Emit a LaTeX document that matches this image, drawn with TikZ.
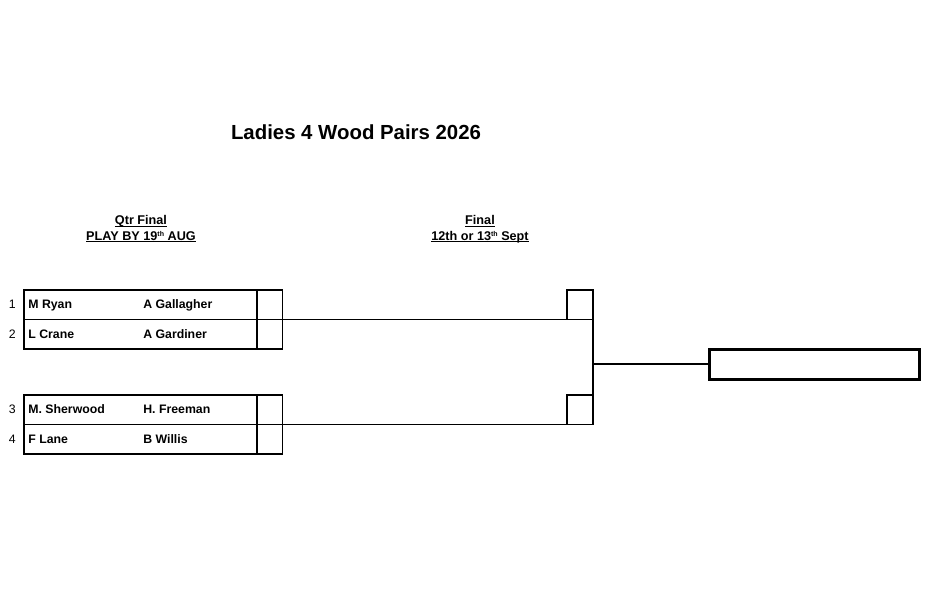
\documentclass[tikz,border=0pt]{standalone}
\usepackage{fontspec}
\setmainfont{Liberation Sans}
\usetikzlibrary{positioning}
\newcommand\ulabel[1]{\setbox0\hbox{#1}\rlap{\rule[-1.3pt]{\wd0}{0.55pt}}\box0}
\newcommand\ordsup[1]{\raisebox{2.2pt}{\fontsize{4}{4}\selectfont #1}}
\tikzset{
  title/.style={font=\fontsize{11.6}{14}\selectfont\bfseries, inner sep=0pt},
  roundlabel/.style={font=\fontsize{7.2}{8.6}\selectfont\bfseries, inner sep=0pt, anchor=base},
  namecell/.style={draw, line width=0.6pt, minimum width=4.66cm, minimum height=0.59cm, inner sep=0pt, outer sep=0pt, anchor=north west},
  scorecell/.style={draw, line width=0.6pt, minimum width=0.52cm, minimum height=0.59cm, inner sep=0pt, outer sep=0pt, anchor=north west},
  champcell/.style={draw, line width=1.7pt, minimum width=4.22cm, minimum height=0.6cm, inner sep=0pt, outer sep=0pt, anchor=north west},
  player/.style={font=\fontsize{7}{8.4}\selectfont\bfseries, inner sep=0pt, text height=5.5pt, text depth=1pt},
  seed/.style={font=\fontsize{7}{8.4}\selectfont, inner sep=0pt, text height=5.5pt, text depth=1pt},
  link/.style={line width=0.6pt},
  bar/.style={line width=1.1pt}
}
\begin{document}
\begin{tikzpicture}[x=0.02cm, y=-0.02cm]
  %%%%% START %%%%%
  \useasboundingbox (0,0) rectangle (952,606);

  % headings
  \node[title] (head) at (356,132) {Ladies 4 Wood Pairs 2026};
  \node[roundlabel] (qtr) at (141,224.5) {\ulabel{Qtr Final}};
  \node[roundlabel] (qtrdate) at (141,240) {\ulabel{PLAY BY 19\ordsup{th} AUG}};
  \node[roundlabel] (fin) at (480,224.5) {\ulabel{Final}};
  \node[roundlabel] (findate) at (480,240) {\ulabel{12th or 13\ordsup{th} Sept}};

  % quarter final rows
  \node[namecell] (r1) at (24,290) {};
  \node[namecell, below=0pt of r1] (r2) {};
  \node[namecell] (r3) at (24,395) {};
  \node[namecell, below=0pt of r3] (r4) {};
  \node[scorecell, right=0pt of r1] (s1) {};
  \node[scorecell, right=0pt of r2] (s2) {};
  \node[scorecell, right=0pt of r3] (s3) {};
  \node[scorecell, right=0pt of r4] (s4) {};
  \draw[bar] (s1.north west) -- (s2.south west);
  \draw[bar] (s3.north west) -- (s4.south west);

  \node[seed, left=0.16cm of r1.west] (n1) {1};
  \node[seed, left=0.16cm of r2.west] (n2) {2};
  \node[seed, left=0.16cm of r3.west] (n3) {3};
  \node[seed, left=0.16cm of r4.west] (n4) {4};

  \node[player, right=0.08cm of r1.west] (p1a) {M Ryan};
  \node[player, right=2.38cm of r1.west] (p1b) {A Gallagher};
  \node[player, right=0.08cm of r2.west] (p2a) {L Crane};
  \node[player, right=2.38cm of r2.west] (p2b) {A Gardiner};
  \node[player, right=0.08cm of r3.west] (p3a) {M. Sherwood};
  \node[player, right=2.38cm of r3.west] (p3b) {H. Freeman};
  \node[player, right=0.08cm of r4.west] (p4a) {F Lane};
  \node[player, right=2.38cm of r4.west] (p4b) {B Willis};

  % final
  \node[scorecell] (f1) at (567,290) {};
  \node[scorecell] (f2) at (567,395) {};
  \node[champcell] (champ) at (709,349) {};

  \draw[link] (s1.south east) -- (f1.south west);
  \draw[link] (s3.south east) -- (f2.south west);
  \draw[bar] (f1.north east) -- (f2.south east);
  \draw[link] (champ.west -| f1.east) -- (champ.west);
  %%%%% END %%%%%
\end{tikzpicture}
\end{document}
